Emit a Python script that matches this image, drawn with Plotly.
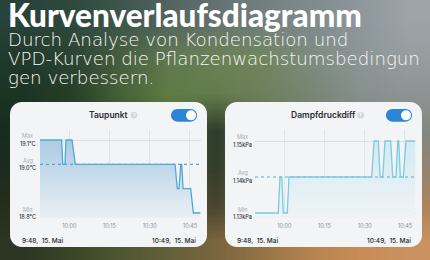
import base64, struct, zlib
import plotly.graph_objects as go

W, H = 430, 260

# ---------------- data ----------------
title_text = "Kurvenverlaufsdiagramm"
subtitle_lines = ["Durch Analyse von Kondensation und",
                  "VPD-Kurven die Pflanzenwachstumsbedingun",
                  "gen verbessern."]

day = "2024-05-15 "
tick_times = ["10:00", "10:15", "10:30", "10:45"]
x_window = ["09:49:05", "10:48:55"]

dew_title = "Taupunkt"
dew_times = ["09:49:05", "09:57:10", "09:57:33", "09:58:24", "09:58:46", "10:01:01",
             "10:02:15", "10:39:25", "10:40:16", "10:40:55", "10:41:33", "10:41:55",
             "10:42:24", "10:45:16", "10:46:15", "10:48:55"]
dew_values = [19.1, 19.1, 19.0, 19.0, 19.1, 19.1,
              19.0, 19.0, 18.9, 18.9, 19.0, 19.0,
              18.9, 18.9, 18.8, 18.8]
dew_stat_names = ["Max", "Avg", "Min"]
dew_stat_values = [19.1, 19.0, 18.8]
dew_stat_labels = ["19.1°C", "19.0°C", "18.8°C"]

vpd_title = "Dampfdruckdiff"
vpd_times = ["09:49:05", "09:57:46", "09:58:24", "09:59:03", "09:59:38", "10:01:07",
             "10:01:46", "10:32:36", "10:33:27", "10:35:03", "10:35:42", "10:36:42",
             "10:37:33", "10:39:41", "10:40:25", "10:41:39", "10:42:18", "10:42:40",
             "10:43:16", "10:44:23", "10:45:23", "10:48:55"]
vpd_values = [1.13, 1.13, 1.14, 1.14, 1.13, 1.13,
              1.14, 1.14, 1.15, 1.15, 1.14, 1.14,
              1.15, 1.15, 1.14, 1.14, 1.15, 1.15,
              1.14, 1.14, 1.15, 1.15]
vpd_stat_names = ["Max", "Avg", "Min"]
vpd_stat_values = [1.15, 1.14, 1.13]
vpd_stat_labels = ["1.15kPa", "1.14kPa", "1.13kPa"]

start_label = "9:48,  15. Mai"
end_label = "10:49,  15. Mai"

# ---------------- helpers ----------------
def X(px):
    return px / W

def Y(py):
    return 1 - py / H

def png_uri(rows):
    h = len(rows); w = len(rows[0])
    raw = b"".join(b"\x00" + bytes([c for px in row for c in px]) for row in rows)
    def chunk(t, d):
        c = struct.pack(">I", len(d)) + t + d
        return c + struct.pack(">I", zlib.crc32(t + d) & 0xffffffff)
    png = b"\x89PNG\r\n\x1a\n" + chunk(b"IHDR", struct.pack(">IIBBBBB", w, h, 8, 2, 0, 0, 0)) \
        + chunk(b"IDAT", zlib.compress(raw, 9)) + chunk(b"IEND", b"")
    return "data:image/png;base64," + base64.b64encode(png).decode()

def rrect(x0, y0, x1, y1, r):
    k = 0.5523 * r
    p = [f"M {X(x0+r)},{Y(y0)}", f"L {X(x1-r)},{Y(y0)}",
         f"C {X(x1-r+k)},{Y(y0)} {X(x1)},{Y(y0+r-k)} {X(x1)},{Y(y0+r)}",
         f"L {X(x1)},{Y(y1-r)}",
         f"C {X(x1)},{Y(y1-r+k)} {X(x1-r+k)},{Y(y1)} {X(x1-r)},{Y(y1)}",
         f"L {X(x0+r)},{Y(y1)}",
         f"C {X(x0+r-k)},{Y(y1)} {X(x0)},{Y(y1-r+k)} {X(x0)},{Y(y1-r)}",
         f"L {X(x0)},{Y(y0+r)}",
         f"C {X(x0)},{Y(y0+r-k)} {X(x0+r-k)},{Y(y0)} {X(x0+r)},{Y(y0)}", "Z"]
    return " ".join(p)

# ---------------- background ----------------
bg = [
    [(40, 68, 58), (46, 74, 62), (62, 86, 76), (82, 100, 96), (100, 114, 112), (116, 128, 128), (128, 139, 142), (142, 151, 156), (156, 164, 168)],
    [(34, 58, 44), (44, 68, 50), (70, 94, 64), (96, 120, 80), (106, 130, 86), (112, 134, 96), (126, 140, 130), (140, 150, 150), (150, 158, 160)],
    [(28, 52, 36), (40, 64, 40), (70, 98, 56), (96, 124, 70), (100, 124, 76), (110, 128, 92), (120, 134, 116), (134, 144, 140), (142, 148, 148)],
    [(24, 44, 30), (36, 56, 38), (60, 80, 50), (80, 96, 60), (44, 62, 42), (100, 110, 90), (120, 125, 115), (130, 134, 128), (132, 136, 130)],
    [(28, 44, 30), (40, 52, 36), (60, 70, 48), (70, 80, 55), (52, 62, 42), (100, 100, 80), (130, 120, 100), (145, 130, 110), (146, 132, 112)],
    [(38, 46, 30), (50, 56, 36), (70, 72, 46), (80, 80, 52), (74, 68, 46), (120, 105, 75), (160, 125, 88), (170, 130, 90), (172, 132, 92)],
    [(44, 54, 34), (60, 70, 40), (80, 86, 50), (100, 96, 60), (122, 102, 62), (150, 116, 70), (182, 132, 80), (200, 140, 86), (202, 146, 96)],
]

fig = go.Figure()

fig.add_layout_image(dict(source=png_uri(bg), xref="paper", yref="paper", x=0, y=1,
                          sizex=1, sizey=1, sizing="stretch", xanchor="left", yanchor="top",
                          layer="below"))

shapes = []
annotations = []

cards = [
    dict(dx=0, title=dew_title, times=dew_times, values=dew_values, names=dew_stat_names,
         svals=dew_stat_values, slabels=dew_stat_labels, yr=[18.7794, 19.1411],
         line="#4fa9d4", grad=[[0, "#abcbe3"], [1, "#e9f0f5"]], help_x=134, xa="x", ya="y"),
    dict(dx=215, title=vpd_title, times=vpd_times, values=vpd_values, names=vpd_stat_names,
         svals=vpd_stat_values, slabels=vpd_stat_labels, yr=[1.12861, 1.15306],
         line="#7ccae1", grad=[[0, "#d2eaf2"], [1, "#eff3f5"]], help_x=360.7, xa="x2", ya="y2"),
]

for i, c in enumerate(cards):
    dx = c["dx"]
    # card
    shapes.append(dict(type="path", xref="paper", yref="paper", path=rrect(10 + dx, 102, 207 + dx, 247, 12),
                       fillcolor="#f3f4f5", line=dict(width=0), layer="below"))
    # title
    annotations.append(dict(text=c["title"], x=X(108 + dx), y=Y(115.3), xref="paper", yref="paper",
                            showarrow=False, xanchor="center", yanchor="middle",
                            font=dict(family="Inter", size=8.5, color="#2a2c30", weight=600)))
    # help icon
    hx = c["help_x"]
    shapes.append(dict(type="circle", xref="paper", yref="paper", x0=X(hx - 3.3), x1=X(hx + 3.3),
                       y0=Y(115.3 + 3.3), y1=Y(115.3 - 3.3), fillcolor="#d3d6da", line=dict(width=0)))
    annotations.append(dict(text="?", x=X(hx), y=Y(115.4), xref="paper", yref="paper", showarrow=False,
                            xanchor="center", yanchor="middle",
                            font=dict(family="Inter", size=5, color="#ffffff", weight=700)))
    # toggle
    shapes.append(dict(type="path", xref="paper", yref="paper",
                       path=rrect(171 + dx, 109, 197 + dx, 121.7, 6.35),
                       fillcolor="#2d85d6", line=dict(width=0)))
    shapes.append(dict(type="circle", xref="paper", yref="paper", x0=X(191 + dx - 5), x1=X(191 + dx + 5),
                       y0=Y(115.35 + 5), y1=Y(115.35 - 5), fillcolor="#ffffff", line=dict(width=0)))
    # stats labels (y positions from the axis scale)
    y0p, y1p = 218, 130
    lo, hi = c["yr"]
    for n, v, lab in zip(c["names"], c["svals"], c["slabels"]):
        py = y0p - (v - lo) / (hi - lo) * (y0p - y1p)
        annotations.append(dict(text=n, x=X(27.7 + dx), y=Y(py - 3.6), xref="paper", yref="paper",
                                showarrow=False, xanchor="center", yanchor="middle",
                                font=dict(family="Inter", size=5.5, color="#a9adb2")))
        annotations.append(dict(text=lab, x=X(27.7 + dx), y=Y(py + 4), xref="paper", yref="paper",
                                showarrow=False, xanchor="center", yanchor="middle",
                                font=dict(family="Inter", size=5.5, color="#33363a", weight=500)))
    # avg dotted line
    shapes.append(dict(type="line", xref=f"{c['xa']} domain", yref=c["ya"], x0=0, x1=1,
                       y0=c["svals"][1], y1=c["svals"][1],
                       line=dict(color=c["line"], width=1.3, dash="dot")))
    # start / end labels
    annotations.append(dict(text=start_label, x=X(20 + dx), y=Y(241), xref="paper", yref="paper",
                            showarrow=False, xanchor="left", yanchor="middle",
                            font=dict(family="Inter", size=6.5, color="#26282b", weight=500)))
    annotations.append(dict(text=end_label, x=X(198.3 + dx), y=Y(241), xref="paper", yref="paper",
                            showarrow=False, xanchor="right", yanchor="middle",
                            font=dict(family="Inter", size=6.5, color="#26282b", weight=500)))
    # data trace
    fig.add_trace(go.Scatter(x=[day + t for t in c["times"]], y=c["values"], mode="lines",
                             line=dict(color=c["line"], width=1.3), fill="tozeroy",
                             fillgradient=dict(type="vertical", colorscale=c["grad"],
                                               start=c["svals"][0], stop=lo),
                             xaxis=c["xa"], yaxis=c["ya"], hoverinfo="skip", showlegend=False))

# header texts
annotations.append(dict(text=title_text, x=X(7), y=Y(15), xref="paper", yref="paper", showarrow=False,
                        xanchor="left", yanchor="middle", borderpad=0,
                        font=dict(family="Lato", size=31.5, color="#ffffff", weight=900)))
for k, (line_txt, cy) in enumerate(zip(subtitle_lines, [39.8, 58.8, 77.4])):
    annotations.append(dict(text=line_txt, x=X(7), y=Y(cy), xref="paper", yref="paper",
                            showarrow=False, xanchor="left", yanchor="middle", borderpad=0,
                            font=dict(family="DejaVu Sans", size=18.2, color="#f5f6f6", weight=200)))

axis_common = dict(showgrid=True, gridcolor="#e1e3e6", gridwidth=1, zeroline=False, showline=False,
                   ticks="", tickfont=dict(family="Inter", size=5.5, color="#8c9095"))
fig.update_layout(
    width=W, height=H, margin=dict(l=0, r=0, t=0, b=0),
    paper_bgcolor="#3a4a3a", plot_bgcolor="rgba(0,0,0,0)",
    shapes=shapes, annotations=annotations, showlegend=False,
    xaxis=dict(domain=[X(40), X(200.5)], type="date", range=[day + x_window[0], day + x_window[1]],
               tickvals=[day + t for t in tick_times], ticktext=tick_times, anchor="y",
               ticklabelstandoff=3, **axis_common),
    xaxis2=dict(domain=[X(255), X(415.5)], type="date", range=[day + x_window[0], day + x_window[1]],
                tickvals=[day + t for t in tick_times], ticktext=tick_times, anchor="y2",
                ticklabelstandoff=3, **axis_common),
    yaxis=dict(domain=[Y(218), Y(130)], range=cards[0]["yr"], tickvals=[dew_stat_values[0], dew_stat_values[2]],
               showticklabels=False, anchor="x", showgrid=True, gridcolor="#dcdfe2", zeroline=False, ticks=""),
    yaxis2=dict(domain=[Y(218), Y(130)], range=cards[1]["yr"], tickvals=[vpd_stat_values[0], vpd_stat_values[2]],
                showticklabels=False, anchor="x2", showgrid=True, gridcolor="#dcdfe2", zeroline=False, ticks=""),
)

fig.write_html("out.html")
